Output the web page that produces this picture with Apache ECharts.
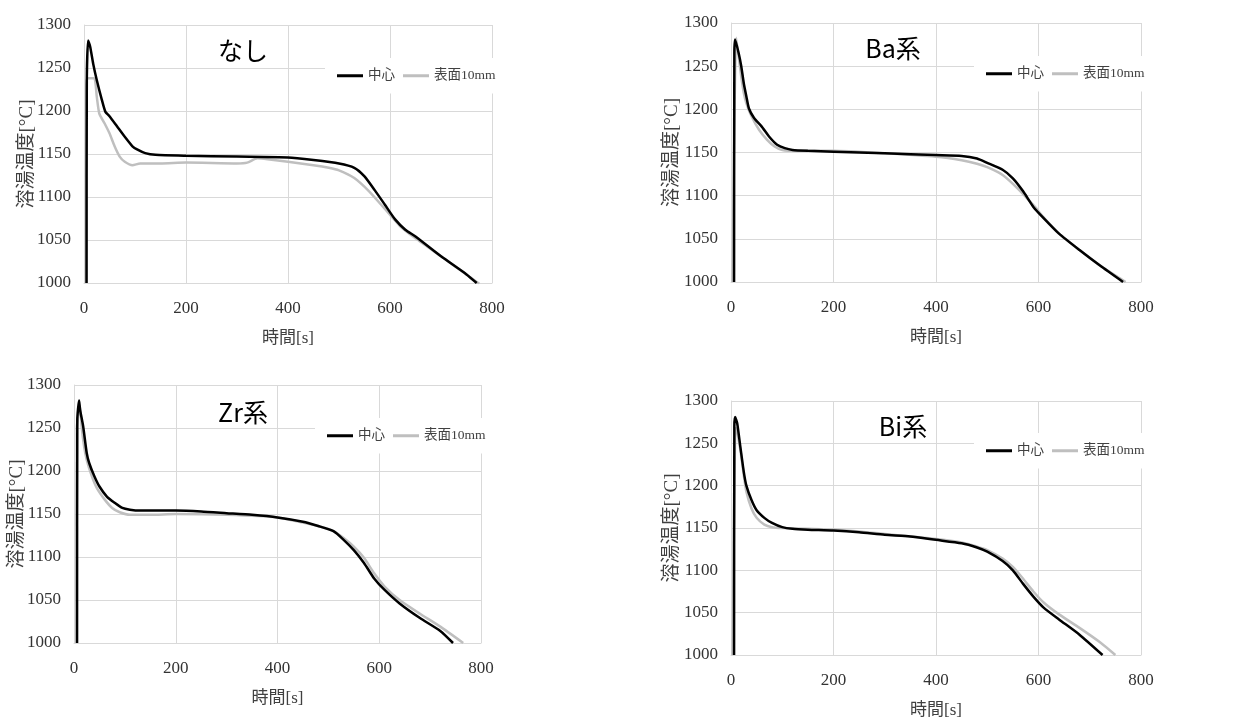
<!DOCTYPE html>
<html><head><meta charset="utf-8">
<script src="https://cdn.jsdelivr.net/npm/echarts@6/dist/echarts.min.js"></script>
<style>html,body{margin:0;padding:0;background:#fff}#c{width:1255px;height:720px}</style>
</head><body><div id="c"></div>
<script>
// Panel titles
const panelTitles = ['なし', 'Ba系', 'Zr系', 'Bi系'];
const seriesNames = ['中心', '表面10mm'];
const xTicks = [0, 200, 400, 600, 800];
const yTicks = [1000, 1050, 1100, 1150, 1200, 1250, 1300];

// なし
const naCenterT = [5, 5.5, 8, 12, 18, 25, 35, 42, 50, 65, 80, 95, 105, 120, 140, 200, 300, 400, 450, 500, 530, 550, 570, 590, 610, 630, 650, 700, 750, 770];
const naCenterV = [1000, 1235, 1282, 1275, 1255, 1236, 1213, 1199, 1194, 1182, 1170, 1159, 1155, 1151, 1149, 1148, 1147, 1146, 1143, 1139, 1134, 1124, 1108, 1091, 1074, 1062, 1054, 1031, 1010, 1000];
const naSurfT = [4, 4.5, 6, 20, 25, 30, 40, 50, 60, 70, 80, 95, 110, 150, 200, 300, 320, 340, 360, 400, 450, 480, 500, 530, 560, 590, 620, 650, 700, 750, 775];
const naSurfV = [1000, 1225, 1238, 1238, 1217, 1197, 1186, 1174, 1159, 1147, 1141, 1137, 1139, 1139, 1140, 1139, 1140, 1145, 1144, 1141, 1137, 1134, 1131, 1122, 1106, 1086, 1066, 1052, 1031, 1010, 999];

// Ba系
const baCenterT = [6, 6.5, 8, 15, 20, 25, 30, 35, 45, 60, 75, 90, 105, 120, 150, 200, 300, 400, 450, 480, 500, 530, 550, 570, 590, 610, 640, 680, 720, 765];
const baCenterV = [1000, 1265, 1281, 1265, 1250, 1230, 1215, 1201, 1190, 1180, 1168, 1159, 1155, 1153, 1152, 1151, 1149, 1147, 1146, 1143, 1138, 1130, 1120, 1105, 1087, 1074, 1056, 1037, 1019, 1000];
const baSurfT = [3, 10, 15, 20, 25, 30, 40, 55, 70, 85, 100, 130, 200, 300, 400, 450, 480, 500, 530, 560, 590, 610, 640, 680, 720, 770];
const baSurfV = [1000, 1283, 1261, 1238, 1219, 1207, 1192, 1176, 1165, 1157, 1153, 1152, 1152, 1149, 1145, 1141, 1137, 1133, 1124, 1108, 1089, 1075, 1056, 1037, 1019, 1000];

// Zr系
const zrCenterT = [6, 6.5, 10, 12, 18, 25, 30, 40, 50, 65, 80, 95, 110, 130, 200, 250, 300, 350, 400, 450, 480, 510, 530, 550, 570, 590, 610, 640, 680, 720, 745];
const zrCenterV = [1000, 1260, 1282, 1271, 1252, 1221, 1209, 1194, 1182, 1170, 1163, 1157, 1155, 1154, 1154, 1153, 1151, 1149, 1146, 1141, 1136, 1130, 1120, 1108, 1093, 1075, 1062, 1046, 1029, 1014, 1000];
const zrSurfT = [5, 5.5, 12, 15, 20, 25, 35, 45, 60, 75, 90, 110, 150, 200, 300, 400, 450, 480, 510, 530, 550, 570, 590, 610, 640, 680, 720, 765];
const zrSurfV = [1000, 1250, 1275, 1252, 1228, 1213, 1194, 1180, 1167, 1157, 1152, 1149, 1149, 1150, 1149, 1146, 1140, 1136, 1130, 1122, 1112, 1099, 1081, 1066, 1050, 1034, 1019, 1000];

// Bi系
const biCenterT = [6, 6.5, 8, 12, 18, 25, 30, 40, 50, 65, 80, 100, 120, 150, 200, 250, 300, 350, 400, 450, 480, 500, 530, 550, 570, 590, 610, 640, 680, 725];
const biCenterV = [1000, 1270, 1281, 1274, 1247, 1216, 1200, 1183, 1171, 1162, 1156, 1151, 1149, 1148, 1147, 1145, 1142, 1140, 1136, 1132, 1127, 1122, 1111, 1100, 1084, 1069, 1056, 1042, 1024, 1000];
const biSurfT = [3, 8, 10, 15, 20, 25, 30, 40, 50, 65, 80, 100, 150, 200, 250, 300, 350, 400, 450, 480, 500, 530, 550, 570, 590, 610, 640, 680, 720, 750];
const biSurfV = [1000, 1265, 1268, 1254, 1235, 1212, 1193, 1173, 1162, 1154, 1151, 1150, 1149, 1148, 1146, 1143, 1140, 1137, 1133, 1128, 1124, 1114, 1104, 1090, 1075, 1062, 1048, 1032, 1015, 1000];

const panels = [
  {c: [naCenterT, naCenterV], s: [naSurfT, naSurfV]},
  {c: [baCenterT, baCenterV], s: [baSurfT, baSurfV]},
  {c: [zrCenterT, zrCenterV], s: [zrSurfT, zrSurfV]},
  {c: [biCenterT, biCenterV], s: [biSurfT, biSurfV]}
];

// layout (positions / styles)
const grids = [
  {left: 84, top: 25, width: 408, height: 258},
  {left: 731, top: 23, width: 410, height: 259},
  {left: 74, top: 385, width: 407, height: 258},
  {left: 731, top: 401, width: 410, height: 258}
];
const titlePos = [[243, 50], [893, 48], [243, 412], [903, 426]];
const legendPos = [[325, 58], [974, 56], [315, 418], [974, 433]];
const yNameGap = [47, 49, 47, 49];

const zip = (a, b) => a.map((t, i) => [t, b[i]]);
const serif = '"Liberation Serif", "Noto Sans CJK JP", serif';
const gridColor = '#d9d9d9';

const option = {
  animation: false,
  backgroundColor: '#fff',
  grid: grids.map(g => Object.assign({containLabel: false}, g)),
  xAxis: grids.map((g, i) => ({
    type: 'value', gridIndex: i, min: xTicks[0], max: xTicks[xTicks.length - 1], interval: 200,
    name: '時間[s]', nameLocation: 'middle', nameGap: 47,
    nameTextStyle: {fontFamily: serif, fontSize: 17, color: '#404040'},
    axisLine: {show: true, lineStyle: {color: gridColor, width: 1}},
    axisTick: {show: false},
    axisLabel: {fontFamily: serif, fontSize: 17, color: '#333', margin: 17, formatter: v => String(v)},
    splitLine: {show: true, lineStyle: {color: gridColor, width: 1}}
  })),
  yAxis: grids.map((g, i) => ({
    type: 'value', gridIndex: i, min: yTicks[0], max: yTicks[yTicks.length - 1], interval: 50,
    name: '溶湯温度[°C]', nameLocation: 'middle', nameRotate: 90, nameGap: yNameGap[i],
    nameMoveOverlap: false,
    nameTextStyle: {fontFamily: serif, fontSize: 19, color: '#404040'},
    axisLine: {show: true, lineStyle: {color: gridColor, width: 1}},
    axisTick: {show: false},
    axisLabel: {fontFamily: serif, fontSize: 17, color: '#333', margin: 13, formatter: v => String(v)},
    splitLine: {show: true, lineStyle: {color: gridColor, width: 1}}
  })),
  legend: legendPos.map(p => ({
    left: p[0], top: p[1], orient: 'horizontal',
    data: seriesNames.map(n => ({name: n, icon: 'rect'})),
    itemWidth: 26, itemHeight: 3, itemGap: 8,
    padding: [11, 12], backgroundColor: '#fff',
    selectedMode: false,
    textStyle: {fontFamily: serif, fontSize: 13.5, color: '#404040'}
  })),
  graphic: titlePos.map((p, i) => ({
    type: 'text', x: p[0], y: p[1], z: 100,
    style: {text: panelTitles[i], font: '25px "Noto Sans CJK JP"', fill: '#000', textAlign: 'center', textVerticalAlign: 'middle'}
  })),
  series: []
};

panels.forEach((p, i) => {
  option.series.push({
    name: seriesNames[1], type: 'line', xAxisIndex: i, yAxisIndex: i, z: 2,
    symbol: 'none', smooth: 0.2, data: zip(p.s[0], p.s[1]),
    lineStyle: {color: '#bfbfbf', width: 2.5}, itemStyle: {color: '#bfbfbf'}
  });
  option.series.push({
    name: seriesNames[0], type: 'line', xAxisIndex: i, yAxisIndex: i, z: 3,
    symbol: 'none', smooth: 0.2, data: zip(p.c[0], p.c[1]),
    lineStyle: {color: '#000', width: 2.5}, itemStyle: {color: '#000'}
  });
});

const chart = echarts.init(document.getElementById('c'), null, {renderer: 'canvas'});
chart.setOption(option);
</script></body></html>
